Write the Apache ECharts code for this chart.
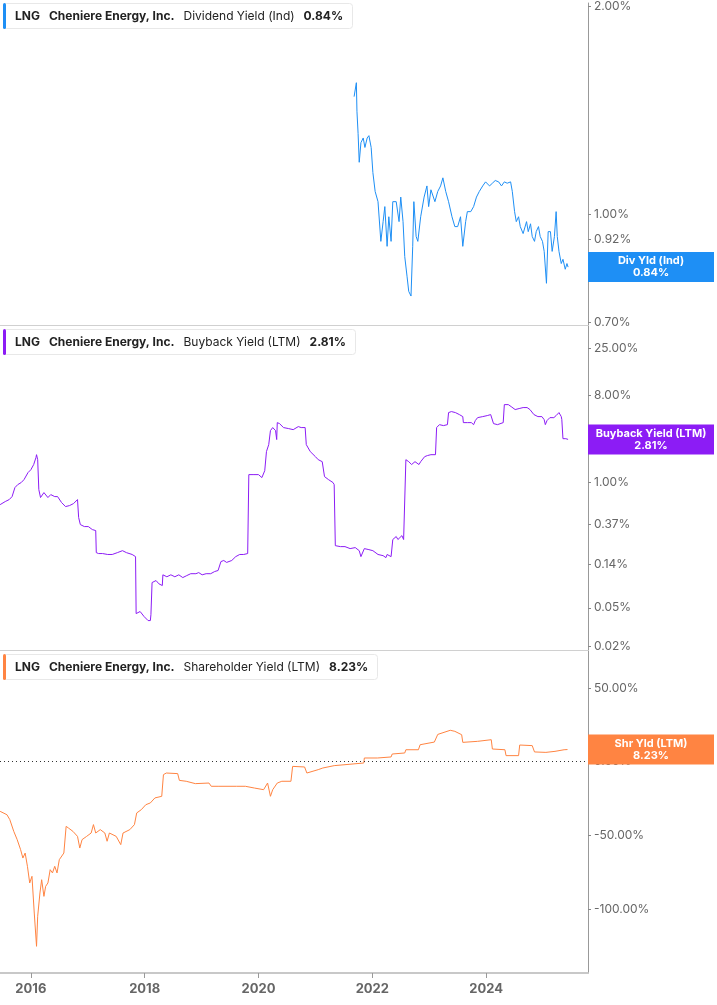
<!DOCTYPE html>
<html>
<head>
<meta charset="utf-8">
<script src="https://cdn.jsdelivr.net/npm/echarts@6/dist/echarts.min.js"></script>
<style>
  html, body { margin: 0; padding: 0; background: #fff; }
  #chart { width: 717px; height: 1005px; }
</style>
</head>
<body>
<div id="chart"></div>
<script>
// [year, value %]
const divYield = [[2021.68,1.48],[2021.72,1.55],[2021.73,1.41],[2021.75,1.31],[2021.77,1.19],[2021.80,1.27],[2021.84,1.29],[2021.87,1.25],[2021.91,1.29],[2021.94,1.30],[2021.98,1.25],[2022.01,1.15],[2022.05,1.08],[2022.10,1.044],[2022.15,0.915],[2022.19,0.977],[2022.22,1.027],[2022.26,0.90],[2022.29,0.993],[2022.33,0.915],[2022.36,1.044],[2022.42,1.044],[2022.47,0.977],[2022.50,1.06],[2022.54,0.977],[2022.57,0.87],[2022.61,0.815],[2022.64,0.775],[2022.68,0.763],[2022.71,0.90],[2022.73,1.044],[2022.77,0.930],[2022.80,0.915],[2022.85,0.993],[2022.91,1.06],[2022.96,1.10],[2022.99,1.027],[2023.03,1.086],[2023.06,1.08],[2023.10,1.044],[2023.15,1.08],[2023.20,1.10],[2023.24,1.13],[2023.29,1.08],[2023.34,1.044],[2023.40,0.993],[2023.45,0.961],[2023.50,0.961],[2023.55,0.993],[2023.59,0.90],[2023.64,0.977],[2023.67,1.01],[2023.73,1.01],[2023.78,1.027],[2023.83,1.06],[2023.88,1.08],[2023.94,1.10],[2023.99,1.115],[2024.06,1.10],[2024.11,1.11],[2024.16,1.12],[2024.22,1.115],[2024.27,1.10],[2024.32,1.115],[2024.37,1.11],[2024.43,1.115],[2024.46,1.08],[2024.50,1.01],[2024.53,0.977],[2024.57,0.993],[2024.60,0.961],[2024.65,0.939],[2024.71,0.977],[2024.74,0.945],[2024.78,0.97],[2024.81,0.930],[2024.85,0.915],[2024.88,0.945],[2024.92,0.961],[2024.95,0.930],[2024.99,0.915],[2025.02,0.885],[2025.06,0.796],[2025.09,0.945],[2025.13,0.945],[2025.16,0.885],[2025.20,0.930],[2025.23,1.01],[2025.25,0.930],[2025.28,0.885],[2025.32,0.85],[2025.35,0.862],[2025.39,0.834],[2025.42,0.85],[2025.44,0.84]];

const buybackYield = [[2015.46,0.590],[2015.55,0.635],[2015.62,0.666],[2015.67,0.715],[2015.72,0.887],[2015.77,0.953],[2015.83,1.0],[2015.88,1.074],[2015.95,1.27],[2016.00,1.36],[2016.05,1.54],[2016.09,1.82],[2016.10,1.95],[2016.12,1.73],[2016.14,0.846],[2016.17,0.699],[2016.23,0.787],[2016.26,0.769],[2016.30,0.699],[2016.35,0.750],[2016.42,0.715],[2016.47,0.715],[2016.54,0.620],[2016.61,0.563],[2016.68,0.577],[2016.75,0.605],[2016.82,0.666],[2016.84,0.433],[2016.87,0.366],[2016.94,0.349],[2017.01,0.349],[2017.08,0.325],[2017.14,0.317],[2017.15,0.187],[2017.19,0.183],[2017.26,0.183],[2017.35,0.179],[2017.43,0.179],[2017.52,0.187],[2017.61,0.196],[2017.68,0.187],[2017.78,0.179],[2017.84,0.170],[2017.85,0.0435],[2017.92,0.0457],[2017.99,0.0405],[2018.06,0.0368],[2018.10,0.0368],[2018.11,0.0424],[2018.13,0.0914],[2018.20,0.0959],[2018.25,0.0887],[2018.31,0.0851],[2018.32,0.110],[2018.39,0.105],[2018.46,0.110],[2018.53,0.105],[2018.60,0.110],[2018.67,0.103],[2018.74,0.108],[2018.81,0.113],[2018.90,0.113],[2018.95,0.116],[2019.01,0.110],[2019.08,0.113],[2019.16,0.113],[2019.23,0.119],[2019.29,0.122],[2019.34,0.151],[2019.39,0.155],[2019.44,0.148],[2019.53,0.155],[2019.60,0.170],[2019.67,0.179],[2019.74,0.179],[2019.81,0.183],[2019.83,1.21],[2019.92,1.21],[2020.00,1.21],[2020.06,1.127],[2020.11,1.33],[2020.14,2.10],[2020.18,2.48],[2020.21,3.47],[2020.25,3.73],[2020.30,3.47],[2020.32,2.80],[2020.33,4.20],[2020.37,4.10],[2020.44,3.73],[2020.53,3.64],[2020.61,3.55],[2020.70,3.82],[2020.75,3.73],[2020.82,3.73],[2020.84,2.48],[2020.91,2.10],[2021.00,1.86],[2021.05,1.73],[2021.12,1.65],[2021.16,1.154],[2021.23,1.074],[2021.31,1.0],[2021.33,0.953],[2021.35,0.221],[2021.44,0.216],[2021.52,0.216],[2021.61,0.206],[2021.70,0.211],[2021.77,0.196],[2021.80,0.170],[2021.86,0.206],[2021.94,0.201],[2022.01,0.196],[2022.10,0.179],[2022.19,0.174],[2022.24,0.166],[2022.26,0.179],[2022.33,0.170],[2022.36,0.256],[2022.42,0.275],[2022.45,0.256],[2022.52,0.281],[2022.55,0.256],[2022.57,0.250],[2022.59,1.73],[2022.64,1.65],[2022.69,1.54],[2022.75,1.65],[2022.82,1.54],[2022.85,1.65],[2022.92,1.86],[2022.97,1.91],[2023.03,1.95],[2023.06,1.95],[2023.11,1.95],[2023.13,3.73],[2023.18,4.00],[2023.25,3.91],[2023.32,4.00],[2023.34,5.34],[2023.39,5.47],[2023.46,5.34],[2023.53,5.09],[2023.59,4.85],[2023.60,4.20],[2023.67,4.20],[2023.74,4.20],[2023.78,4.00],[2023.81,4.41],[2023.85,4.73],[2023.94,4.85],[2024.02,4.97],[2024.08,5.09],[2024.11,5.21],[2024.13,4.10],[2024.20,4.00],[2024.30,4.20],[2024.32,6.46],[2024.39,6.46],[2024.44,6.16],[2024.51,5.74],[2024.58,5.88],[2024.65,6.02],[2024.72,6.02],[2024.77,5.74],[2024.84,5.09],[2024.91,4.85],[2024.98,4.85],[2025.02,4.51],[2025.04,4.00],[2025.07,4.41],[2025.12,4.73],[2025.19,4.73],[2025.23,4.97],[2025.26,4.85],[2025.28,5.34],[2025.32,4.85],[2025.33,4.51],[2025.35,2.86],[2025.40,2.86],[2025.44,2.81]];

const shareholderYield = [[2015.46,-33.7],[2015.58,-36.0],[2015.63,-39.3],[2015.70,-47.3],[2015.76,-52.9],[2015.82,-59.7],[2015.86,-65.4],[2015.90,-62.0],[2015.94,-71.0],[2015.98,-82.3],[2016.02,-77.8],[2016.06,-102.7],[2016.10,-125.3],[2016.12,-104.9],[2016.16,-89.1],[2016.19,-80.1],[2016.23,-91.4],[2016.26,-84.6],[2016.30,-82.3],[2016.34,-73.3],[2016.38,-75.5],[2016.42,-71.0],[2016.46,-75.5],[2016.50,-66.5],[2016.58,-62.0],[2016.62,-43.9],[2016.66,-45.0],[2016.74,-47.3],[2016.82,-50.7],[2016.86,-58.6],[2016.90,-52.9],[2016.98,-50.7],[2017.06,-48.4],[2017.10,-42.7],[2017.14,-48.4],[2017.22,-46.1],[2017.30,-48.4],[2017.34,-54.0],[2017.38,-48.4],[2017.50,-50.7],[2017.58,-56.3],[2017.62,-48.4],[2017.74,-46.1],[2017.82,-42.7],[2017.86,-34.8],[2017.94,-32.6],[2018.02,-29.2],[2018.10,-28.0],[2018.18,-24.6],[2018.30,-23.5],[2018.33,-8.8],[2018.38,-7.7],[2018.58,-8.1],[2018.61,-12.7],[2018.73,-13.3],[2018.89,-14.9],[2019.13,-14.5],[2019.17,-16.7],[2019.29,-16.7],[2019.61,-16.7],[2019.77,-16.7],[2019.93,-17.9],[2020.09,-19.0],[2020.16,-14.5],[2020.21,-23.5],[2020.25,-19.0],[2020.33,-14.5],[2020.41,-13.3],[2020.57,-13.3],[2020.60,-3.2],[2020.81,-3.6],[2020.85,-7.7],[2021.05,-5.4],[2021.13,-4.3],[2021.33,-2.7],[2021.34,-1.4],[2021.85,-0.9],[2021.86,2.5],[2022.09,2.5],[2022.33,3.2],[2022.35,5.2],[2022.57,5.9],[2022.59,8.1],[2022.81,8.1],[2022.84,11.5],[2023.09,13.3],[2023.15,18.5],[2023.37,21.3],[2023.45,20.6],[2023.57,18.3],[2023.59,13.1],[2023.85,13.8],[2024.09,14.9],[2024.11,8.6],[2024.33,8.1],[2024.35,4.1],[2024.57,4.1],[2024.59,11.3],[2024.81,10.9],[2024.85,6.6],[2025.05,6.3],[2025.21,7.0],[2025.37,8.1],[2025.43,8.23]];

const divTicks = [2.0, 1.0, 0.92, 0.81, 0.70];
const buybackTicks = [25, 8, 1, 0.37, 0.14, 0.05, 0.02];
const shareholderTicks = [50, 0, -50, -100];
const yearTicks = [2016, 2018, 2020, 2022, 2024];

const BLUE = '#1e8ff5', PURPLE = '#8c1cf5', ORANGE = '#ff8442';
const FONT = 'Inter, "Noto Sans", sans-serif';
const lg = v => Math.log10(v);
const pct = v => v.toFixed(2) + '%';

const panels = [
  { top: 0, height: 325, min: lg(0.693), max: lg(2.02), log: true, ticks: divTicks, data: divYield, color: BLUE, metric: 'Dividend Yield (Ind)', badge: 'Div Yld (Ind)' },
  { top: 326, height: 324, min: lg(0.0182), max: lg(42.4), log: true, ticks: buybackTicks, data: buybackYield, color: PURPLE, metric: 'Buyback Yield (LTM)', badge: 'Buyback Yield (LTM)' },
  { top: 651, height: 322, min: -143.4, max: 75.1, log: false, ticks: shareholderTicks, data: shareholderYield, color: ORANGE, metric: 'Shareholder Yield (LTM)', badge: 'Shr Yld (LTM)' }
];

const grid = [], xAxis = [], yAxis = [], series = [], title = [];
panels.forEach((p, i) => {
  const conv = v => (p.log ? lg(v) : v);
  const back = v => (p.log ? Math.pow(10, v) : v);
  const last = p.data[p.data.length - 1][1];
  grid.push({ left: 0, right: 124, top: p.top, height: p.height });
  const isBottom = i === panels.length - 1;
  xAxis.push({
    type: 'value', gridIndex: i, min: 2015.458, max: 2025.79,
    splitLine: { show: false },
    axisLine: { show: true, onZero: false, lineStyle: { color: isBottom ? '#c8c8c8' : '#d0d0d0', width: isBottom ? 2 : 1 } },
    axisTick: { show: isBottom, customValues: yearTicks, length: 5, lineStyle: { color: '#999' } },
    axisLabel: { show: isBottom, customValues: yearTicks, formatter: v => String(v), color: '#666', fontWeight: 'bold', fontSize: 13, fontFamily: FONT, margin: 10 }
  });
  yAxis.push({
    type: 'value', gridIndex: i, position: 'right', min: p.min, max: p.max,
    splitLine: { show: false },
    axisLine: { show: true, lineStyle: { color: '#999' } },
    axisTick: { show: true, customValues: p.ticks.map(conv), length: 3, inside: false, lineStyle: { color: '#888' } },
    axisLabel: { customValues: p.ticks.map(conv), formatter: v => pct(back(v)), color: '#666', fontSize: 12, fontFamily: FONT, margin: 6 }
  });
  yAxis.push({
    type: 'value', gridIndex: i, position: 'right', min: p.min, max: p.max,
    splitLine: { show: false }, axisLine: { show: false }, axisTick: { show: false },
    axisLabel: {
      customValues: [conv(last)], margin: 0, align: 'left',
      formatter: () => '{b|' + p.badge + '}\n{b|' + pct(last) + '}',
      backgroundColor: p.color, padding: [3, 0, 3, 0],
      rich: { b: { width: 126, align: 'center', color: '#fff', fontWeight: 'bold', fontSize: 11, lineHeight: 12, fontFamily: FONT } }
    }
  });
  const s = {
    type: 'line', xAxisIndex: i, yAxisIndex: i * 2, showSymbol: false, silent: true,
    data: p.data.map(d => [d[0], conv(d[1])]),
    lineStyle: { color: p.color, width: 1 }, itemStyle: { color: p.color }
  };
  if (!p.log) {
    s.markLine = { silent: true, symbol: 'none', label: { show: false },
      lineStyle: { color: '#333', type: [1, 3], width: 1 }, data: [{ yAxis: 0 }] };
  }
  series.push(s);
  title.push({
    left: 3, top: p.top + 3,
    text: '{bar|}{t|LNG}{t|Cheniere Energy, Inc.}{m|' + p.metric + '}{t|' + pct(last) + '}',
    backgroundColor: '#fff', borderColor: '#e8e8e8', borderWidth: 1, borderRadius: 3, padding: [0, 10, 0, 0],
    textStyle: {
      rich: {
        bar: { backgroundColor: p.color, width: 3, height: 26, borderRadius: 2 },
        t: { fontWeight: 'bold', fontSize: 12, color: '#222', fontFamily: FONT, padding: [0, 0, 0, 9] },
        m: { fontWeight: 'normal', fontSize: 12, color: '#222', fontFamily: FONT, padding: [0, 0, 0, 9] }
      }
    }
  });
});

const chart = echarts.init(document.getElementById('chart'));
chart.setOption({
  animation: false,
  backgroundColor: '#fff',
  title: title,
  grid: grid,
  xAxis: xAxis,
  yAxis: yAxis,
  series: series
});
</script>
</body>
</html>
